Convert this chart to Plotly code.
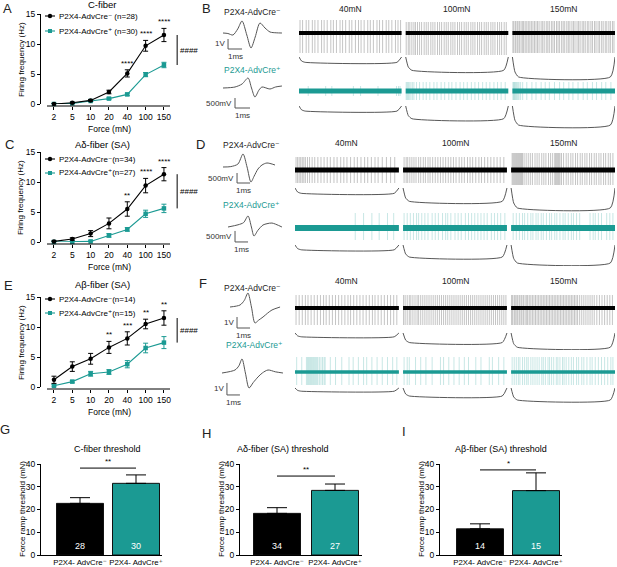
import plotly.graph_objects as go

W, H = 617, 567
FONT = "Liberation Sans, Arial, DejaVu Sans, sans-serif"
BLACK = "#000000"
TEAL = "#1b9a93"
GRAY = "#555555"

# ------------------------------------------------------------------ data
forces = ["2", "5", "10", "20", "40", "100", "150"]

c_neg = [0.0, 0.2, 0.6, 2.0, 5.1, 9.7, 11.5]
c_neg_err = [0.1, 0.1, 0.15, 0.3, 0.6, 0.9, 1.1]
c_pos = [0.0, 0.1, 0.5, 0.9, 1.6, 4.9, 6.5]
c_pos_err = [0.05, 0.05, 0.1, 0.15, 0.2, 0.35, 0.45]
c_stars = ["", "", "", "", "****", "****", "****"]

ad_neg = [0.1, 0.5, 1.4, 3.1, 5.5, 9.4, 11.3]
ad_neg_err = [0.1, 0.2, 0.5, 0.9, 1.2, 1.2, 1.1]
ad_pos = [0.0, 0.0, 0.1, 1.1, 2.1, 4.7, 5.6]
ad_pos_err = [0.05, 0.05, 0.1, 0.3, 0.3, 0.6, 0.7]
ad_stars = ["", "", "", "", "**", "****", "****"]

ab_neg = [1.2, 3.4, 4.7, 6.6, 8.1, 10.5, 11.5]
ab_neg_err = [0.6, 0.8, 0.9, 1.0, 1.1, 0.8, 1.2]
ab_pos = [0.2, 0.9, 2.2, 2.5, 3.8, 6.5, 7.4]
ab_pos_err = [0.2, 0.2, 0.4, 0.4, 0.6, 0.8, 1.0]
ab_stars = ["", "", "", "**", "***", "**", "**"]

bar_groups = ["neg", "pos"]
bar_ticktext = ["P2X4- AdvCre⁻", "P2X4- AdvCre⁺"]
thr_c = [22.7, 31.5]
thr_c_err = [2.5, 3.7]
thr_c_n = ["28", "30"]
thr_ad = [18.3, 28.4]
thr_ad_err = [2.5, 2.8]
thr_ad_n = ["34", "27"]
thr_ab = [11.5, 28.3]
thr_ab_err = [2.2, 7.8]
thr_ab_n = ["14", "15"]

ramp_forces = [40, 100, 150]          # mN
ramp_labels = ["40mN", "100mN", "150mN"]
force_profile_t = [0.0, 0.25, 0.6, 9.55, 10.0]     # s within a ramp
force_profile_f = [0.0, 0.75, 1.0, 1.0, 0.0]       # fraction of ramp force

# spike times (s) within each 10 s ramp, read from the recordings
B_neg_spikes = [
    [0.1, 0.35, 0.7, 0.95, 1.3, 1.55, 1.85, 2.2, 2.45, 2.75, 3.1, 3.35, 3.65, 4.0, 4.25, 4.55, 4.9, 5.15,
     5.5, 5.8, 6.05, 6.35, 6.7, 6.95, 7.25, 7.6, 7.85, 8.15, 8.5, 8.75, 9.05, 9.4, 9.65, 9.9],
    [0.05, 0.25, 0.4, 0.6, 0.8, 0.95, 1.15, 1.35, 1.55, 1.8, 2.0, 2.2, 2.45, 2.65, 2.85, 3.1, 3.3, 3.5,
     3.75, 3.95, 4.15, 4.4, 4.6, 4.8, 5.05, 5.25, 5.45, 5.7, 5.9, 6.1, 6.35, 6.55, 6.75, 7.0, 7.2, 7.4,
     7.65, 7.85, 8.05, 8.3, 8.5, 8.7, 8.95, 9.15, 9.35, 9.6, 9.8],
    [0.05, 0.15, 0.3, 0.45, 0.55, 0.7, 0.85, 1.0, 1.1, 1.25, 1.4, 1.55, 1.7, 1.85, 2.0, 2.15, 2.3, 2.45,
     2.6, 2.8, 2.95, 3.1, 3.3, 3.45, 3.6, 3.8, 3.95, 4.1, 4.3, 4.45, 4.6, 4.8, 4.95, 5.1, 5.3, 5.45, 5.6,
     5.8, 5.95, 6.1, 6.3, 6.45, 6.6, 6.8, 6.95, 7.1, 7.3, 7.45, 7.65, 7.8, 8.0, 8.15, 8.35, 8.5, 8.7,
     8.85, 9.05, 9.2, 9.4, 9.55, 9.75, 9.9],
]
B_pos_spikes = [
    [0.9, 2.6, 3.2, 5.3, 6.0, 7.7, 9.5, 9.7, 9.85],
    [0.05, 0.15, 0.25, 0.35, 0.5, 0.65, 0.8, 1.05, 1.35, 1.7, 2.0, 2.35, 2.75, 3.05, 3.45, 3.8, 4.2, 4.5,
     4.9, 5.3, 5.65, 6.0, 6.4, 6.75, 7.1, 7.5, 7.85, 8.2, 8.6, 8.95, 9.3, 9.7],
    [0.05, 0.12, 0.2, 0.28, 0.36, 0.45, 0.55, 0.65, 0.8, 1.0, 1.4, 1.9, 2.3, 2.8, 3.2, 3.6, 4.1, 4.6,
     5.0, 5.5, 5.9, 6.4, 6.9, 7.3, 7.8, 8.2, 8.7, 9.1, 9.6],
]
D_neg_spikes = [
    [0.1, 0.25, 0.4, 0.55, 0.7, 0.85, 1.0, 1.2, 1.4, 1.65, 1.9, 2.2, 2.5, 2.8, 3.1, 3.4, 3.75, 4.05,
     4.4, 4.7, 5.0, 5.35, 5.7, 6.0, 6.35, 6.7, 7.0, 7.35, 7.7, 8.0, 8.4, 8.8, 9.2, 9.6],
    [0.1, 0.3, 0.45, 0.65, 0.85, 1.05, 1.25, 1.5, 1.7, 1.95, 2.15, 2.4, 2.6, 2.85, 3.1, 3.35, 3.6, 3.85,
     4.1, 4.35, 4.6, 4.85, 5.1, 5.4, 5.65, 5.9, 6.2, 6.45, 6.7, 7.0, 7.3, 7.55, 7.85, 8.15, 8.45, 8.75,
     9.05, 9.35, 9.7],
    [0.1, 0.2, 0.3, 0.4, 0.5, 0.6, 0.7, 0.8, 0.9, 1.0, 1.1, 1.25, 1.45, 1.65, 1.85, 2.05, 2.3, 2.5, 2.7,
     2.95, 3.15, 3.35, 3.6, 3.8, 4.0, 4.2, 4.3, 4.4, 4.5, 4.6, 4.7, 4.85, 5.05, 5.3, 5.5, 5.75, 5.95,
     6.2, 6.4, 6.65, 6.85, 7.1, 7.3, 7.55, 7.75, 8.0, 8.2, 8.45, 8.65, 8.9, 9.1, 9.35, 9.55, 9.8],
]
D_pos_spikes = [
    [5.8, 6.6, 7.4, 8.1, 8.9, 9.5],
    [0.1, 0.4, 0.7, 1.0, 1.3, 1.5, 1.8, 2.1, 2.4, 2.8, 3.1, 3.4, 3.8, 4.1, 4.3, 4.6, 5.0, 5.3, 5.6, 6.0,
     6.3, 6.6, 6.9, 7.2, 7.5, 7.8, 8.1, 8.5, 8.8, 9.1, 9.4, 9.8],
    [0.2, 0.5, 0.8, 1.1, 1.3, 1.6, 1.9, 2.1, 2.4, 2.6, 2.9, 3.1, 3.4, 3.7, 3.9, 4.2, 4.4, 4.7, 5.0, 5.2,
     5.5, 5.8, 6.0, 6.3, 6.6, 7.6, 7.9, 8.1, 8.4, 8.7, 9.2, 9.5, 9.8],
]
F_neg_spikes = [
    [0.1, 0.4, 0.7, 1.0, 1.25, 1.55, 1.85, 2.15, 2.45, 2.75, 3.0, 3.3, 3.6, 3.9, 4.2, 4.5, 4.8, 5.1,
     5.35, 5.65, 5.95, 6.25, 6.55, 6.85, 7.15, 7.45, 7.7, 8.0, 8.3, 8.6, 8.9, 9.2, 9.5, 9.8],
    [0.05, 0.2, 0.4, 0.6, 0.75, 0.95, 1.15, 1.35, 1.5, 1.7, 1.9, 2.1, 2.3, 2.5, 2.7, 2.9, 3.1, 3.3, 3.5,
     3.7, 3.9, 4.1, 4.3, 4.5, 4.7, 4.9, 5.1, 5.3, 5.5, 5.7, 5.9, 6.1, 6.3, 6.5, 6.7, 6.9, 7.1, 7.3, 7.5,
     7.7, 7.9, 8.1, 8.3, 8.5, 8.7, 8.9, 9.1, 9.3, 9.5, 9.7, 9.9],
    [0.05, 0.15, 0.3, 0.4, 0.55, 0.65, 0.8, 0.95, 1.05, 1.2, 1.35, 1.5, 1.6, 1.75, 1.9, 2.05, 2.2, 2.35,
     2.5, 2.65, 2.8, 2.95, 3.1, 3.25, 3.4, 3.55, 3.7, 3.85, 4.0, 4.15, 4.3, 4.45, 4.6, 4.75, 4.9, 5.05,
     5.2, 5.35, 5.5, 5.65, 5.8, 5.95, 6.1, 6.25, 6.4, 6.6, 6.8, 7.0, 7.2, 7.4, 7.6, 7.8, 8.0, 8.25, 8.5,
     8.75, 9.0, 9.25, 9.5, 9.75],
]
F_pos_spikes = [
    [0.16, 0.65, 1.1, 1.2, 1.3, 1.4, 1.5, 1.6, 1.7, 1.8, 1.9, 2.0, 2.1, 2.2, 2.35, 2.5, 2.65, 2.8, 2.9,
     3.4, 3.9, 4.5, 5.2, 5.6, 6.1, 6.6, 6.9, 7.4, 7.9, 8.4, 8.9, 9.4, 9.8],
    [0.1, 0.4, 0.6, 1.2, 1.7, 2.2, 2.8, 3.6, 3.9, 4.4, 4.9, 5.4, 5.9, 6.3, 7.0, 7.5, 8.3, 8.6, 9.2, 9.7],
    [0.1, 0.3, 0.5, 0.7, 0.85, 1.1, 1.3, 1.5, 1.65, 1.9, 2.1, 2.3, 2.5, 2.7, 2.95, 3.1, 3.3, 3.55, 3.7,
     3.9, 4.1, 4.35, 4.5, 4.7, 4.95, 5.1, 5.3, 5.55, 5.8, 6.0, 6.3, 6.5, 6.8, 7.0, 7.3, 7.6, 7.8, 8.1,
     8.4, 8.7, 9.0, 9.3, 9.6, 9.8],
]

# action-potential waveforms (ms, V)
wf_B_neg_t = [0.0, 0.35, 0.71, 1.05, 1.36, 1.7, 2.0, 2.3, 2.64, 3.0, 3.36, 3.8, 4.21]
wf_B_neg_v = [0.0, -0.05, -0.2, 0.4, 1.2, -0.2, -1.5, -0.4, 1.0, 0.5, 0.1, 0.02, 0.0]
wf_B_pos_t = [0.0, 0.8, 1.27, 1.67, 1.9, 2.13, 2.4, 2.6, 3.13, 3.5, 3.93]
wf_B_pos_v = [0.0, 0.05, 0.2, 0.5, 0.0, -0.45, -0.1, 0.05, -0.05, 0.05, 0.1]
wf_D_neg_t = [0.0, 0.6, 1.15, 1.54, 1.85, 2.15, 2.4, 2.69, 3.0, 3.38, 4.0]
wf_D_neg_v = [0.0, 0.02, 0.15, 0.65, 0.0, -0.75, -0.45, -0.1, 0.1, 0.2, 0.1]
wf_D_pos_t = [0.0, 0.77, 1.2, 1.54, 1.8, 2.0, 2.3, 2.69, 3.0, 3.38, 4.15]
wf_D_pos_v = [0.0, 0.1, 0.2, 0.5, 0.0, -0.41, -0.15, 0.09, 0.15, 0.18, 0.0]
wf_F_neg_t = [0.0, 0.77, 1.1, 1.38, 1.65, 1.92, 2.2, 2.54, 2.9, 3.23, 3.85]
wf_F_neg_v = [0.0, 0.18, 0.6, 1.27, 0.0, -1.45, -1.2, -0.91, -0.55, -0.27, 0.0]
wf_F_pos_t = [0.0, 1.0, 1.3, 1.54, 1.8, 2.08, 2.4, 2.77, 3.1, 3.54, 4.1, 4.69]
wf_F_pos_v = [0.0, 0.25, 0.6, 1.17, 0.0, -1.25, -0.8, -0.33, 0.0, 0.25, 0.1, 0.0]

# ------------------------------------------------------------------ helpers
def px(x):
    return x / W


def py(y):
    return 1 - y / H


fig = go.Figure()
layout = {}
annotations = []
shapes = []
n_ax = [0]

BASE_AX = dict(showgrid=False, zeroline=False, showline=False, showticklabels=False,
               ticks="", fixedrange=True)


def new_axes(xd, yd, xr, yr, xkw=None, ykw=None):
    n_ax[0] += 1
    i = n_ax[0]
    sx = "" if i == 1 else str(i)
    xa = dict(BASE_AX, domain=xd, range=xr, anchor="y" + sx)
    ya = dict(BASE_AX, domain=yd, range=yr, anchor="x" + sx)
    if xkw:
        xa.update(xkw)
    if ykw:
        ya.update(ykw)
    layout["xaxis" + sx] = xa
    layout["yaxis" + sx] = ya
    return "x" + sx, "y" + sx


def text(x, y, s, size=9, color=BLACK, xanchor="center", yanchor="middle", angle=0, **kw):
    annotations.append(dict(x=px(x), y=py(y), xref="paper", yref="paper", text=s, showarrow=False,
                            xanchor=xanchor, yanchor=yanchor, textangle=angle,
                            font=dict(family=FONT, size=size, color=color), **kw))


def letter(x, y, s):
    text(x, y, s, size=13, color="#222222")


AX_STYLE = dict(showline=True, linecolor=BLACK, linewidth=1, ticks="outside", ticklen=3,
                tickwidth=1, tickcolor=BLACK, showticklabels=True,
                tickfont=dict(family=FONT, size=8.5, color=BLACK))

force_pos = list(range(len(forces)))   # categorical positions of the force steps
X_LO, X_HI = -0.38, 6.33               # visible extent of the x axis line (category units)
PX_PER_CAT = 18.33

# ------------------------------------------------------------------ line panels A, C, E
def line_panel(top, yaxis_x, title, title_y, neg, neg_err, pos, pos_err, stars, leg_neg, leg_pos,
               leg_y0, leg_dy, letter_xy, lab):
    bottom = top + 90
    x_right_px = 200
    xr_hi = X_HI + (x_right_px - 170) / PX_PER_CAT
    xa, ya = new_axes([px(47), px(x_right_px)], [py(bottom), py(top)], [X_LO, xr_hi], [0, 15],
                      xkw=dict(AX_STYLE, showline=False, anchor="free", position=py(bottom + 2),
                               tickvals=force_pos, ticktext=forces, tickangle=0),
                      ykw=dict(AX_STYLE, anchor="free", position=px(yaxis_x), tickvals=[0, 5, 10, 15]))
    # x axis line only over the category span
    shapes.append(dict(type="line", xref=xa, yref="paper", x0=X_LO, x1=X_HI,
                       y0=py(bottom + 2), y1=py(bottom + 2), line=dict(color=BLACK, width=1)))
    for vals, err, col, sym in [(pos, pos_err, TEAL, "square"), (neg, neg_err, BLACK, "circle")]:
        fig.add_trace(go.Scatter(x=force_pos, y=vals, xaxis=xa, yaxis=ya, mode="lines+markers",
                                 line=dict(color=col, width=1.1),
                                 marker=dict(color=col, size=4.5, symbol=sym),
                                 error_y=dict(type="data", array=err, color=col, thickness=1, width=2.5),
                                 cliponaxis=False, showlegend=False, hoverinfo="skip"))
    for f, v, e, s in zip(force_pos, neg, neg_err, stars):
        if s:
            annotations.append(dict(x=f, y=v + e, xref=xa, yref=ya, text=s, showarrow=False,
                                    xanchor="center", yanchor="bottom", yshift=0,
                                    font=dict(family=FONT, size=8, color=BLACK)))
    # #### bracket between the two curves at the highest force
    xb = force_pos[-1] + 0.72
    shapes.append(dict(type="line", xref=xa, yref=ya, x0=xb, x1=xb, y0=pos[-1], y1=neg[-1],
                       line=dict(color=BLACK, width=1)))
    annotations.append(dict(x=xb, y=(pos[-1] + neg[-1]) / 2, xref=xa, yref=ya, text="####",
                            showarrow=False, xanchor="left", yanchor="middle", xshift=1,
                            font=dict(family=FONT, size=8, color=BLACK)))
    # legend
    for k, (lbl, col, sym) in enumerate([(leg_neg, BLACK, "circle"), (leg_pos, TEAL, "square")]):
        yy = leg_y0 + k * leg_dy
        shapes.append(dict(type="line", xref="paper", yref="paper", x0=px(45), x1=px(55),
                           y0=py(yy), y1=py(yy), line=dict(color=col, width=1.1)))
        if sym == "circle":
            shapes.append(dict(type="circle", xref="paper", yref="paper", x0=px(47.8), x1=px(52.2),
                               y0=py(yy + 2.2), y1=py(yy - 2.2), fillcolor=col, line=dict(width=0)))
        else:
            shapes.append(dict(type="rect", xref="paper", yref="paper", x0=px(48), x1=px(52),
                               y0=py(yy + 2), y1=py(yy - 2), fillcolor=col, line=dict(width=0)))
        text(57, yy, lbl, size=8, color=BLACK, xanchor="left")
    text(102, title_y, title, size=9.5)
    text(21, top + 45, "Firing frequency (Hz)", size=8, angle=-90)
    text(109, bottom + 25, "Force (mN)", size=8.5)
    letter(letter_xy[0], letter_xy[1], lab)


line_panel(14, 40, "C-fiber", 4, c_neg, c_neg_err, c_pos, c_pos_err, c_stars,
           "P2X4-AdvCre⁻ (n=28)", "P2X4-AdvCre⁺ (n=30)", 16, 15, (7, 8), "A")
line_panel(152, 40, "Aδ-fiber (SA)", 144, ad_neg, ad_neg_err, ad_pos, ad_pos_err, ad_stars,
           "P2X4-AdvCre⁻(n=34)", "P2X4-AdvCre⁺(n=27)", 159, 14, (9, 145), "C")
line_panel(297, 40, "Aβ-fiber (SA)", 284, ab_neg, ab_neg_err, ab_pos, ab_pos_err, ab_stars,
           "P2X4-AdvCre⁻(n=14)", "P2X4-AdvCre⁺(n=15)", 299, 14, (8, 285), "E")

# ------------------------------------------------------------------ bar panels G, H, I
def bar_panel(x0, ctr0, ctr1, x_end, title, title_x, vals, errs, ns, sig_y, sig_txt, lab, lab_xy):
    unit = ctr1 - ctr0
    xr = [-(ctr0 - x0) / unit, 1 + (x_end - ctr1) / unit]
    xa, ya = new_axes([px(x0), px(x_end)], [py(555), py(464)], xr, [0, 40],
                      xkw=dict(showline=True, linecolor=BLACK, linewidth=1, type="category",
                               showticklabels=True, tickvals=bar_groups, ticktext=bar_ticktext,
                               tickangle=0, tickfont=dict(family=FONT, size=7.8, color=BLACK)),
                      ykw=dict(AX_STYLE, tickvals=[0, 10, 20, 30, 40],
                               tickfont=dict(family=FONT, size=8.5, color=BLACK)))
    fig.add_trace(go.Bar(x=bar_groups, y=vals, xaxis=xa, yaxis=ya, width=47 / unit,
                         marker=dict(color=[BLACK, TEAL], line=dict(color="#111111", width=1)),
                         error_y=dict(type="data", array=errs, arrayminus=[0, 0], symmetric=False,
                                      color=BLACK, thickness=1, width=10),
                         showlegend=False, hoverinfo="skip"))
    for g, n in zip(bar_groups, ns):
        annotations.append(dict(x=g, y=0, xref=xa, yref=ya, text=n, showarrow=False,
                                yanchor="bottom", yshift=2,
                                font=dict(family=FONT, size=9, color="white")))
    shapes.append(dict(type="line", xref=xa, yref=ya, x0=0, x1=1, y0=sig_y, y1=sig_y,
                       line=dict(color=BLACK, width=1)))
    annotations.append(dict(x=0.5, y=sig_y, xref=xa, yref=ya, text=sig_txt, showarrow=False,
                            yanchor="bottom", yshift=0, font=dict(family=FONT, size=8, color=BLACK)))
    text(title_x, 449, title, size=9)
    text(x0 - 19, 509, "Force ramp threshold (mN)", size=8, angle=-90)
    letter(lab_xy[0], lab_xy[1], lab)


bar_panel(41, 80, 136, 162, "C-fiber threshold", 107, thr_c, thr_c_err, thr_c_n, 38.2, "**", "G", (5, 429))
bar_panel(240, 277, 335, 362, "Aδ-fiber (SA) threshold", 283, thr_ad, thr_ad_err, thr_ad_n, 34.7, "**",
          "H", (206, 433))
bar_panel(440, 480, 536, 562, "Aβ-fiber (SA) threshold", 501, thr_ab, thr_ab_err, thr_ab_n, 37.4, "*",
          "I", (404, 431))

# ------------------------------------------------------------------ recording panels B, D, F
SEG = 10.0
GAP = 0.4
TOTAL = 3 * SEG + 2 * GAP


def record_row(x0, band, top, bottom, spikes, up, down, col, spike_col, band_w, f_base, f_k, title_y=None):
    xa, ya = new_axes([px(x0), px(615)], [py(bottom), py(top)], [0, TOTAL],
                      [-(bottom - band), band - top])
    for k, F in enumerate(ramp_forces):
        off = k * (SEG + GAP)
        xs, ys = [], []
        for t in spikes[k]:
            xs += [off + t, off + t, None]
            ys += [up[k], -down[k], None]
        fig.add_trace(go.Scatter(x=xs, y=ys, xaxis=xa, yaxis=ya, mode="lines",
                                 line=dict(color=spike_col, width=0.8), showlegend=False,
                                 hoverinfo="skip"))
        fig.add_trace(go.Scatter(x=[off, off + SEG], y=[0, 0], xaxis=xa, yaxis=ya, mode="lines",
                                 line=dict(color=col, width=band_w), showlegend=False, hoverinfo="skip"))
        fig.add_trace(go.Scatter(x=[off + t for t in force_profile_t],
                                 y=[-f_base - F * f_k * fr for fr in force_profile_f],
                                 xaxis=xa, yaxis=ya, mode="lines",
                                 line=dict(color="#444444", width=0.9, shape="spline", smoothing=0.5),
                                 showlegend=False, hoverinfo="skip"))
        if title_y is not None:
            x_px = x0 + (off + SEG / 2) / TOTAL * (615 - x0)
            text(x_px, title_y, ramp_labels[k], size=8.5, color="#222222")


def waveform(ox, oy, ppms, ppv, t, v, sb_t, sb_v, bar_v, bar_lbl):
    xr = [-28 / ppms, 70 / ppms]
    yr = [-32 / ppv, 28 / ppv]
    xa, ya = new_axes([px(ox - 28), px(ox + 70)], [py(oy + 32), py(oy - 28)], xr, yr)
    fig.add_trace(go.Scatter(x=t, y=v, xaxis=xa, yaxis=ya, mode="lines",
                             line=dict(color=GRAY, width=1, shape="spline", smoothing=0.8),
                             showlegend=False, hoverinfo="skip"))
    fig.add_trace(go.Scatter(x=[sb_t, sb_t, sb_t + 1.0], y=[sb_v + bar_v, sb_v, sb_v], xaxis=xa,
                             yaxis=ya, mode="lines", line=dict(color=GRAY, width=1),
                             showlegend=False, hoverinfo="skip"))
    annotations.append(dict(x=sb_t, y=sb_v + bar_v / 2, xref=xa, yref=ya, text=bar_lbl,
                            showarrow=False, xanchor="right", xshift=-1,
                            font=dict(family=FONT, size=8, color="#333333")))
    annotations.append(dict(x=sb_t + 0.5, y=sb_v, xref=xa, yref=ya, text="1ms",
                            showarrow=False, yanchor="top", yshift=-1,
                            font=dict(family=FONT, size=8, color="#333333")))


SP_K = "rgba(90,90,90,0.45)"
SP_T = "rgba(27,154,147,0.3)"

# B
letter(206, 8, "B")
text(252, 12, "P2X4-AdvCre⁻", size=8.5, color="#222222")
text(252, 70, "P2X4-AdvCre⁺", size=8.5, color=TEAL)
waveform(223, 33, 14, 10, wf_B_neg_t, wf_B_neg_v, 0.36, -1.6, 1.0, "1V")
waveform(223, 88, 15, 20, wf_B_pos_t, wf_B_pos_v, 0.8, -1.0, 0.5, "500mV")
record_row(299, 33, 15, 82, B_neg_spikes, [13, 11, 12], [20, 22, 20], BLACK, SP_K, 4, 24, 0.133, title_y=9)
record_row(299, 91, 78, 129, B_pos_spikes, [5, 9, 9], [5, 9, 9], TEAL, SP_T, 5, 15, 0.127)

# D
letter(200, 145, "D")
text(251, 145, "P2X4-AdvCre⁻", size=8.5, color="#222222")
text(251, 205, "P2X4-AdvCre⁺", size=8.5, color=TEAL)
waveform(223, 167, 13, 20, wf_D_neg_t, wf_D_neg_v, 1.08, -0.8, 0.5, "500mV")
waveform(228, 227, 13, 22, wf_D_pos_t, wf_D_pos_v, 0.54, -0.68, 0.5, "500mV")
record_row(295, 170, 150, 212, D_neg_spikes, [13, 13, 17], [13, 13, 15], BLACK, SP_K, 5, 18, 0.133, title_y=143)
record_row(295, 228, 210, 266, D_pos_spikes, [15, 15, 15], [12, 12, 12], TEAL, SP_T, 6, 17, 0.12)

# F
letter(203, 283, "F")
text(252, 288, "P2X4-AdvCre⁻", size=8.5, color="#222222")
text(254, 345, "P2X4-AdvCre⁺", size=8.5, color=TEAL)
waveform(230, 307, 13, 11, wf_F_neg_t, wf_F_neg_v, 0.54, -1.91, 1.0, "1V")
waveform(222, 373, 13, 12, wf_F_pos_t, wf_F_pos_v, 0.38, -1.83, 1.0, "1V")
record_row(295, 308, 292, 350, F_neg_spikes, [13, 13, 13], [17, 17, 17], BLACK, SP_K, 4, 25, 0.095, title_y=281)
record_row(295, 372, 355, 403, F_pos_spikes, [15, 15, 15], [13, 13, 13], TEAL, SP_T, 3.5, 16, 0.08)

# ------------------------------------------------------------------ layout
fig.update_layout(
    width=W, height=H, autosize=False,
    margin=dict(l=0, r=0, t=0, b=0),
    paper_bgcolor="white", plot_bgcolor="rgba(0,0,0,0)",
    template="none", showlegend=False,
    font=dict(family=FONT, size=9, color=BLACK),
    annotations=annotations, shapes=shapes,
    **layout,
)
fig.write_html("out.html", config={"displayModeBar": False, "staticPlot": True},
               post_script="document.body.style.margin='0';document.body.style.overflow='hidden';")
